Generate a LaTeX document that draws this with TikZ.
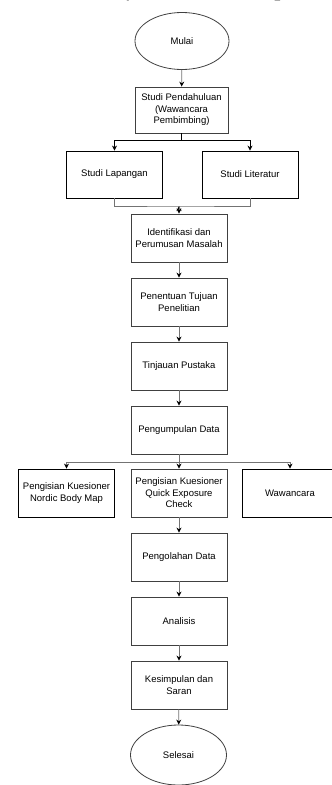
\documentclass[tikz,border=0pt]{standalone}
\usepackage{fontspec}
\setmainfont{Liberation Sans}
\newfontfamily\captionfont{Liberation Serif}
\usetikzlibrary{shapes.geometric,arrows.meta}

\begin{document}
\begin{tikzpicture}[x=1pt,y=-1pt,
    font=\fontsize{9.5}{11.5}\selectfont,
    stepbox/.style={shape=rectangle,draw=black!75,line width=0.8pt,align=center,
        minimum width=96pt,minimum height=48pt,inner sep=2pt},
    terminal/.style={shape=ellipse,draw=black!75,line width=0.8pt,
        minimum width=96pt,minimum height=58pt},
    link/.style={draw=black!55,line width=0.8pt},
    arrow/.style={link,-{Stealth[black,length=5pt,width=5pt]}}]
    \useasboundingbox (0,0) rectangle (332,785);

    % cut-off caption line above the chart
    \node[anchor=base west,inner sep=0pt,font=\captionfont\fontsize{25}{30}\selectfont] (caption) at (55,-5)
        {\llap{Berikut }adalah \textit{flowchart} dari penelitian};

    \node[terminal,minimum width=94pt,minimum height=57pt] (mulai) at (182,41) {Mulai};
    \node[stepbox,minimum width=93pt,minimum height=46pt] (pendahuluan) at (181.5,110)
        {Studi Pendahuluan\\(Wawancara\\Pembimbing)};

    \node[stepbox,draw=black,minimum height=47pt] (lapangan) at (114.5,174.5) {Studi Lapangan};
    \node[stepbox,draw=black,minimum height=47pt] (literatur) at (250,174.5) {Studi Literatur};

    \node[stepbox] (identifikasi) at (179,238) {Identifikasi dan\\Perumusan Masalah};
    \node[stepbox] (tujuan) at (179,302) {Penentuan Tujuan\\Penelitian};
    \node[stepbox] (pustaka) at (179,366) {Tinjauan Pustaka};
    \node[stepbox] (pengumpulan) at (179,430) {Pengumpulan Data};

    \node[stepbox,draw=black] (nordic) at (66.5,493) {Pengisian Kuesioner\\Nordic Body Map};
    \node[stepbox] (qec) at (179,493) {Pengisian Kuesioner\\Quick Exposure\\Check};
    \node[stepbox,draw=black] (wawancara) at (290,493) {Wawancara};

    \node[stepbox] (pengolahan) at (179,557) {Pengolahan Data};
    \node[stepbox] (analisis) at (179,621) {Analisis};
    \node[stepbox] (kesimpulan) at (179,685) {Kesimpulan dan\\Saran};
    \node[terminal,minimum height=60pt] (selesai) at (178.5,755) {Selesai};

    \coordinate (split1) at (181.5,140);
    \coordinate (merge) at (179,206);
    \coordinate (split2) at (179,462);

    \path [arrow] (mulai) edge node {} (pendahuluan);
    \draw [link,draw=black] (pendahuluan) -- (split1);
    \draw [arrow,draw=black] (split1) -| (lapangan);
    \draw [arrow,draw=black] (split1) -| (literatur);

    \draw [link] (lapangan) |- (merge) -| (literatur);
    \path [arrow] (merge) edge node {} (identifikasi);

    \path [arrow] (identifikasi) edge node {} (tujuan);
    \path [arrow] (tujuan) edge node {} (pustaka);
    \path [arrow] (pustaka) edge node {} (pengumpulan);

    \path [arrow] (pengumpulan) edge node {} (qec);
    \draw [arrow] (split2) -| (nordic);
    \draw [arrow] (split2) -| (wawancara);

    \path [arrow] (qec) edge node {} (pengolahan);
    \path [arrow] (pengolahan) edge node {} (analisis);
    \path [arrow] (analisis) edge node {} (kesimpulan);
    \path [arrow] (kesimpulan) edge node {} (selesai);
\end{tikzpicture}
\end{document}
